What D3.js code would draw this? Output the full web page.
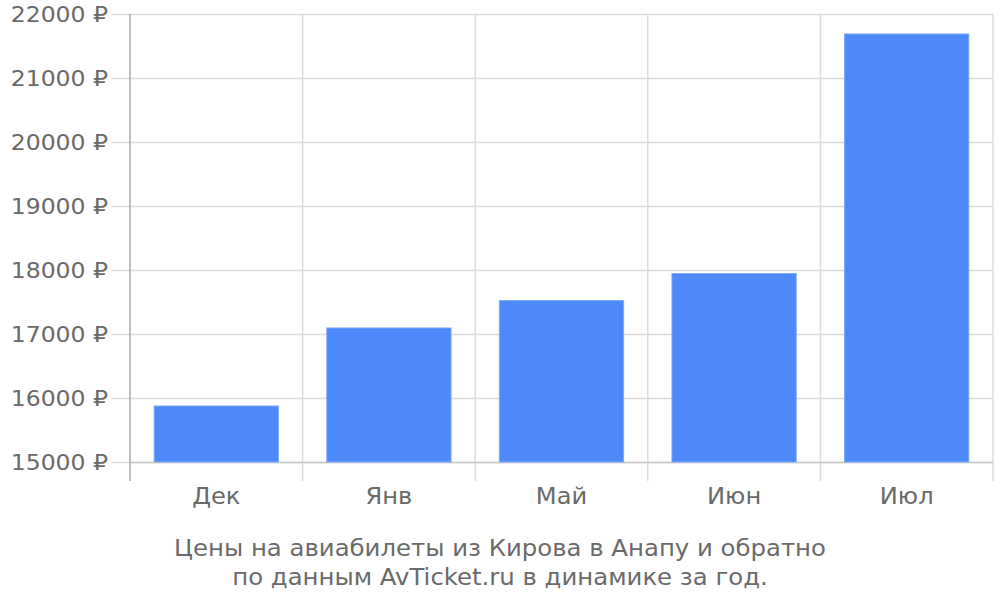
<!DOCTYPE html>
<html><head><meta charset="utf-8">
<script src="https://cdn.jsdelivr.net/npm/d3@7"></script>
<style>body{margin:0;background:#fff}svg{display:block;font-family:"DejaVu Sans",sans-serif}</style>
</head><body><svg id="c" width="1000" height="600"></svg>
<script>
const categories = ["Дек","Янв","Май","Июн","Июл"];
const prices = [15875, 17094, 17523, 17945, 21688];
const yTicks = [15000,16000,17000,18000,19000,20000,21000,22000];
const captionLines = ["Цены на авиабилеты из Кирова в Анапу и обратно","по данным AvTicket.ru в динамике за год."];

const svg = d3.select("#c");
const L=130, R=993, T=14, B=462;
const x = d3.scaleBand().domain(categories).range([L,R]).paddingInner(0.28).paddingOuter(0.14);
const y = d3.scaleLinear().domain([15000,22000]).range([B,T]);
const grid="#dcdcdc", txt="#6a6a6a";

svg.append("g").selectAll("line").data(yTicks).join("line")
  .attr("x1",112).attr("x2",R).attr("y1",d=>y(d)+0.5).attr("y2",d=>y(d)+0.5)
  .attr("stroke",grid).attr("stroke-width",1.5);
const bounds = d3.range(categories.length+1).map(i=>L+i*(R-L)/categories.length);
svg.append("g").selectAll("line").data(bounds.slice(1)).join("line")
  .attr("x1",d=>d).attr("x2",d=>d).attr("y1",T).attr("y2",481)
  .attr("stroke",grid).attr("stroke-width",1.5);
svg.append("line").attr("x1",L).attr("x2",R).attr("y1",B+0.5).attr("y2",B+0.5).attr("stroke","#c8c8c8").attr("stroke-width",1.5);
svg.append("line").attr("x1",L).attr("x2",L).attr("y1",T).attr("y2",481).attr("stroke","#aaa").attr("stroke-width",1.5);

svg.append("g").selectAll("rect").data(prices).join("rect")
  .attr("x",(d,i)=>x(categories[i])).attr("width",x.bandwidth())
  .attr("y",d=>y(d)).attr("height",d=>B-y(d))
  .attr("fill","#4d89f9").attr("stroke","#7ea9fa").attr("stroke-width",1);

svg.append("g").selectAll("text").data(yTicks).join("text")
  .attr("transform",d=>`translate(108,${y(d)+8}) scale(1.09,1)`).attr("text-anchor","end")
  .attr("fill",txt).attr("font-size",21.6).text(d=>d+" ₽");
svg.append("g").selectAll("text").data(categories).join("text")
  .attr("transform",d=>`translate(${x(d)+x.bandwidth()/2},504) scale(1.05,1)`).attr("text-anchor","middle")
  .attr("fill",txt).attr("font-size",23).text(d=>d);
svg.append("g").selectAll("text").data(captionLines).join("text")
  .attr("transform",(d,i)=>`translate(500,${556+i*29}) scale(1.06,1)`).attr("text-anchor","middle")
  .attr("fill",txt).attr("font-size",23).text(d=>d);
</script></body></html>
